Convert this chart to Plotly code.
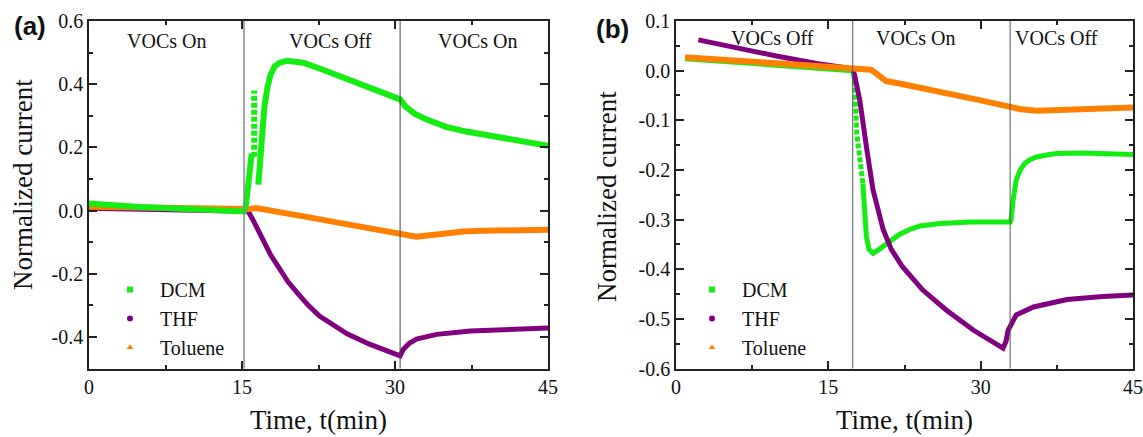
import plotly.graph_objects as go

W, H = 1143, 437

# ---------------- data: panel (a) ----------------
dcm_a_t = [0, 2, 5, 8, 11, 13.5, 15.2, 15.4, 15.6, 15.8, 15.95, None,
           16.6, 16.8, 17.0, 17.2, 17.5, 17.8, 18.2, 18.7, 19.4, 21, 23, 25, 27, 29,
           30.5, 31, 32, 33, 35, 37, 40, 43, 45]
dcm_a_v = [0.022, 0.016, 0.011, 0.007, 0.003, 0.0, -0.003, 0.02, 0.066, 0.14, 0.18, None,
           0.082, 0.16, 0.26, 0.33, 0.39, 0.43, 0.456, 0.468, 0.474, 0.468, 0.445, 0.42, 0.395, 0.37,
           0.352, 0.33, 0.305, 0.29, 0.265, 0.25, 0.232, 0.215, 0.205]
dcm_a_burst_t = [16.2, 16.2]
dcm_a_burst_v = [0.17, 0.38]

thf_a_t = [0, 5, 10, 15.2, 15.6, 16.0, 16.5, 17.1, 17.8, 18.7, 19.5, 20.4, 21.5, 22.6, 24,
           25.3, 27.5, 29, 30.2, 30.5, 30.8, 31.4, 32.1, 34.1, 37.4, 41, 45]
thf_a_v = [0.007, 0.004, 0.002, 0.0, -0.002, -0.025, -0.06, -0.095, -0.14, -0.186, -0.225, -0.26,
           -0.3, -0.334, -0.365, -0.39, -0.423, -0.442, -0.455, -0.46, -0.44, -0.42, -0.407,
           -0.392, -0.381, -0.375, -0.372]

tol_a_t = [0, 5, 10, 15.2, 15.8, 16.4, 18, 20, 22, 24, 26, 28, 30.5, 31.3, 32.1, 33, 34.1,
           35.5, 36.7, 38.5, 41, 45]
tol_a_v = [0.012, 0.009, 0.006, 0.003, 0.005, 0.008, 0.0, -0.012, -0.024, -0.036, -0.048, -0.06,
           -0.076, -0.081, -0.083, -0.08, -0.076, -0.07, -0.066, -0.064, -0.062, -0.061]

switch_a = [15.2, 30.5]
labels_a = ["VOCs On", "VOCs Off", "VOCs On"]
labels_a_t = [7.6, 23.7, 38.1]

# ---------------- data: panel (b) ----------------
dcm_b_t = [0.9, 5, 10, 15, 17.4, 17.6, None, 18.4, 18.75, 19.0, 19.4, 20, 21, 22, 23, 24, 26,
           29, 32.9, 33.0, 33.2, 33.5, 33.9, 34.3, 34.8, 35.5, 36.5, 37.5, 40, 42.5, 45]
dcm_b_v = [0.024, 0.018, 0.011, 0.004, 0.0, -0.02, None, -0.227, -0.335, -0.36, -0.368, -0.36,
           -0.345, -0.33, -0.32, -0.313, -0.308, -0.305, -0.305, -0.30, -0.26, -0.22, -0.2,
           -0.188, -0.18, -0.174, -0.17, -0.167, -0.166, -0.167, -0.169]
dcm_b_burst_t = [17.6, 17.8, 18.4]
dcm_b_burst_v = [-0.02, -0.127, -0.227]

thf_b_t = [2.2, 6, 10, 14, 17.4, 17.6, 18.1, 18.8, 19.4, 20.4, 21.2, 22.3, 24.3, 26.6, 29.3,
           32.2, 32.5, 32.7, 33.5, 35.2, 38.5, 42, 45]
thf_b_v = [0.062, 0.045, 0.029, 0.014, 0.004, -0.01, -0.06, -0.16, -0.24, -0.32, -0.36, -0.395,
           -0.442, -0.482, -0.523, -0.559, -0.545, -0.523, -0.492, -0.476, -0.461, -0.455, -0.452]

tol_b_t = [0.9, 5, 10, 15, 17.4, 18.6, 19.2, 19.6, 20.1, 20.7, 22, 24, 26, 28, 30, 32.9, 34,
           35.5, 37, 39, 42, 45]
tol_b_v = [0.027, 0.021, 0.014, 0.007, 0.004, 0.003, 0.002, -0.004, -0.013, -0.021, -0.026,
           -0.034, -0.043, -0.052, -0.06, -0.073, -0.078, -0.081, -0.08, -0.077, -0.075, -0.074]

switch_b = [17.4, 32.9]
labels_b = ["VOCs Off", "VOCs On", "VOCs Off"]
labels_b_t = [9.55, 23.6, 37.5]

# ---------------- ticks ----------------
x_tickvals = [0, 15, 30, 45]
x_ticktext = ["0", "15", "30", "45"]
ya_tickvals = [-0.4, -0.2, 0.0, 0.2, 0.4, 0.6]
ya_ticktext = ["-0.4", "-0.2", "0.0", "0.2", "0.4", "0.6"]
yb_tickvals = [-0.6, -0.5, -0.4, -0.3, -0.2, -0.1, 0.0, 0.1]
yb_ticktext = ["-0.6", "-0.5", "-0.4", "-0.3", "-0.2", "-0.1", "0.0", "0.1"]

series_names = ["DCM", "THF", "Toluene"]
GREEN, PURPLE, ORANGE = "#14EC14", "#800080", "#FF8000"
colors = [GREEN, PURPLE, ORANGE]
symbols = ["square", "circle", "triangle-up"]

SERIF = "Liberation Serif"
fig = go.Figure()

def px_x(p):
    return p / W

def px_y(p):
    return 1 - p / H

# panel a traces
fig.add_trace(go.Scatter(x=thf_a_t, y=thf_a_v, mode="lines", line=dict(color=PURPLE, width=5),
                         showlegend=False, xaxis="x", yaxis="y"))
fig.add_trace(go.Scatter(x=tol_a_t, y=tol_a_v, mode="lines", line=dict(color=ORANGE, width=6),
                         showlegend=False, xaxis="x", yaxis="y"))
fig.add_trace(go.Scatter(x=dcm_a_t, y=dcm_a_v, mode="lines", line=dict(color=GREEN, width=6),
                         showlegend=False, xaxis="x", yaxis="y", connectgaps=False))
fig.add_trace(go.Scatter(x=dcm_a_burst_t, y=dcm_a_burst_v, mode="lines",
                         line=dict(color=GREEN, width=6, dash="5px,2px"),
                         showlegend=False, xaxis="x", yaxis="y"))

# panel b traces
fig.add_trace(go.Scatter(x=dcm_b_t, y=dcm_b_v, mode="lines", line=dict(color=GREEN, width=5),
                         showlegend=False, xaxis="x2", yaxis="y2", connectgaps=False))
fig.add_trace(go.Scatter(x=dcm_b_burst_t, y=dcm_b_burst_v, mode="lines",
                         line=dict(color=GREEN, width=5, dash="5px,2px"),
                         showlegend=False, xaxis="x2", yaxis="y2"))
fig.add_trace(go.Scatter(x=thf_b_t, y=thf_b_v, mode="lines", line=dict(color=PURPLE, width=5),
                         showlegend=False, xaxis="x2", yaxis="y2"))
fig.add_trace(go.Scatter(x=tol_b_t, y=tol_b_v, mode="lines", line=dict(color=ORANGE, width=6),
                         showlegend=False, xaxis="x2", yaxis="y2"))

# legend entries (marker symbols as in the original)
for leg, xa, ya in [("legend", "x", "y"), ("legend2", "x2", "y2")]:
    for name, col, sym in zip(series_names, colors, symbols):
        fig.add_trace(go.Scatter(x=[None], y=[None], mode="markers", name=name,
                                 marker=dict(color=col, symbol=sym, size=6),
                                 legend=leg, xaxis=xa, yaxis=ya))

# switching lines
shapes = []
for i, t in enumerate(switch_a):
    shapes.append(dict(type="line", xref="x", yref="y domain", x0=t, x1=t, y0=0, y1=1,
                       line=dict(color="#8a8a8a" if i == 0 else "#444444", width=1.5 if i == 0 else 1)))
for t in switch_b:
    shapes.append(dict(type="line", xref="x2", yref="y2 domain", x0=t, x1=t, y0=0, y1=1,
                       line=dict(color="#555555", width=1)))

annotations = []
for txt, t in zip(labels_a, labels_a_t):
    annotations.append(dict(text=txt, x=t, y=0.943, xref="x", yref="y domain", showarrow=False,
                            xanchor="center", yanchor="middle", font=dict(family=SERIF, size=20, color="#111")))
for txt, t in zip(labels_b, labels_b_t):
    annotations.append(dict(text=txt, x=t, y=0.95, xref="x2", yref="y2 domain", showarrow=False,
                            xanchor="center", yanchor="middle", font=dict(family=SERIF, size=20, color="#111")))

# panel letters
for txt, cx, cy in [("(a)", 30, 26), ("(b)", 612, 29)]:
    annotations.append(dict(text="<b>%s</b>" % txt, x=px_x(cx), y=px_y(cy), xref="paper", yref="paper",
                            showarrow=False, xanchor="center", yanchor="middle",
                            font=dict(family="Liberation Sans", size=26, color="#111")))
# axis titles
for cx in [318.5, 904.5]:
    annotations.append(dict(text="Time, t(min)", x=px_x(cx), y=px_y(420), xref="paper", yref="paper",
                            showarrow=False, xanchor="center", yanchor="middle",
                            font=dict(family=SERIF, size=27, color="#111")))
for cx, cy in [(23, 185), (607.5, 196.5)]:
    annotations.append(dict(text="Normalized current", x=px_x(cx), y=px_y(cy), xref="paper", yref="paper",
                            showarrow=False, xanchor="center", yanchor="middle", textangle=-90,
                            font=dict(family=SERIF, size=27, color="#111")))

ydom = [px_y(368.5), px_y(21)]
common_axis = dict(showline=True, linecolor="#222", linewidth=1.5, mirror="ticks", ticks="inside",
                   ticklen=8, tickwidth=1.5, tickcolor="#222", showgrid=False, zeroline=False,
                   tickfont=dict(family=SERIF, size=20, color="#111"), tickmode="array",
                   automargin=False)

fig.update_layout(
    width=W, height=H, margin=dict(l=0, r=0, t=0, b=0, pad=0, autoexpand=False),
    paper_bgcolor="white", plot_bgcolor="white",
    xaxis=dict(domain=[px_x(89), px_x(548)], range=[0, 45], tickvals=x_tickvals, ticktext=x_ticktext,
               minor=dict(tickmode="linear", tick0=0, dtick=7.5, ticklen=4, ticks="inside",
                          tickcolor="#222", tickwidth=1.5), anchor="y", **common_axis),
    yaxis=dict(domain=ydom, range=[-0.5, 0.6], tickvals=ya_tickvals, ticktext=ya_ticktext,
               minor=dict(tickmode="linear", tick0=0, dtick=0.1, ticklen=4, ticks="inside",
                          tickcolor="#222", tickwidth=1.5), anchor="x", **common_axis),
    xaxis2=dict(domain=[px_x(676), px_x(1133)], range=[0, 45], tickvals=x_tickvals, ticktext=x_ticktext,
                minor=dict(tickmode="linear", tick0=0, dtick=7.5, ticklen=4, ticks="inside",
                           tickcolor="#222", tickwidth=1.5), anchor="y2", **common_axis),
    yaxis2=dict(domain=ydom, range=[-0.6, 0.1], tickvals=yb_tickvals, ticktext=yb_ticktext,
                minor=dict(tickmode="linear", tick0=0, dtick=0.05, ticklen=4, ticks="inside",
                           tickcolor="#222", tickwidth=1.5), anchor="x2", **common_axis),
    legend=dict(x=px_x(100), y=px_y(270), xref="paper", yref="paper", xanchor="left", yanchor="top",
                bgcolor="rgba(0,0,0,0)", borderwidth=0, itemwidth=50,
                font=dict(family=SERIF, size=20, color="#111")),
    legend2=dict(x=px_x(682), y=px_y(270), xref="paper", yref="paper", xanchor="left", yanchor="top",
                 bgcolor="rgba(0,0,0,0)", borderwidth=0, itemwidth=50,
                 font=dict(family=SERIF, size=20, color="#111")),
    shapes=shapes, annotations=annotations,
)

fig.write_html("out.html")
